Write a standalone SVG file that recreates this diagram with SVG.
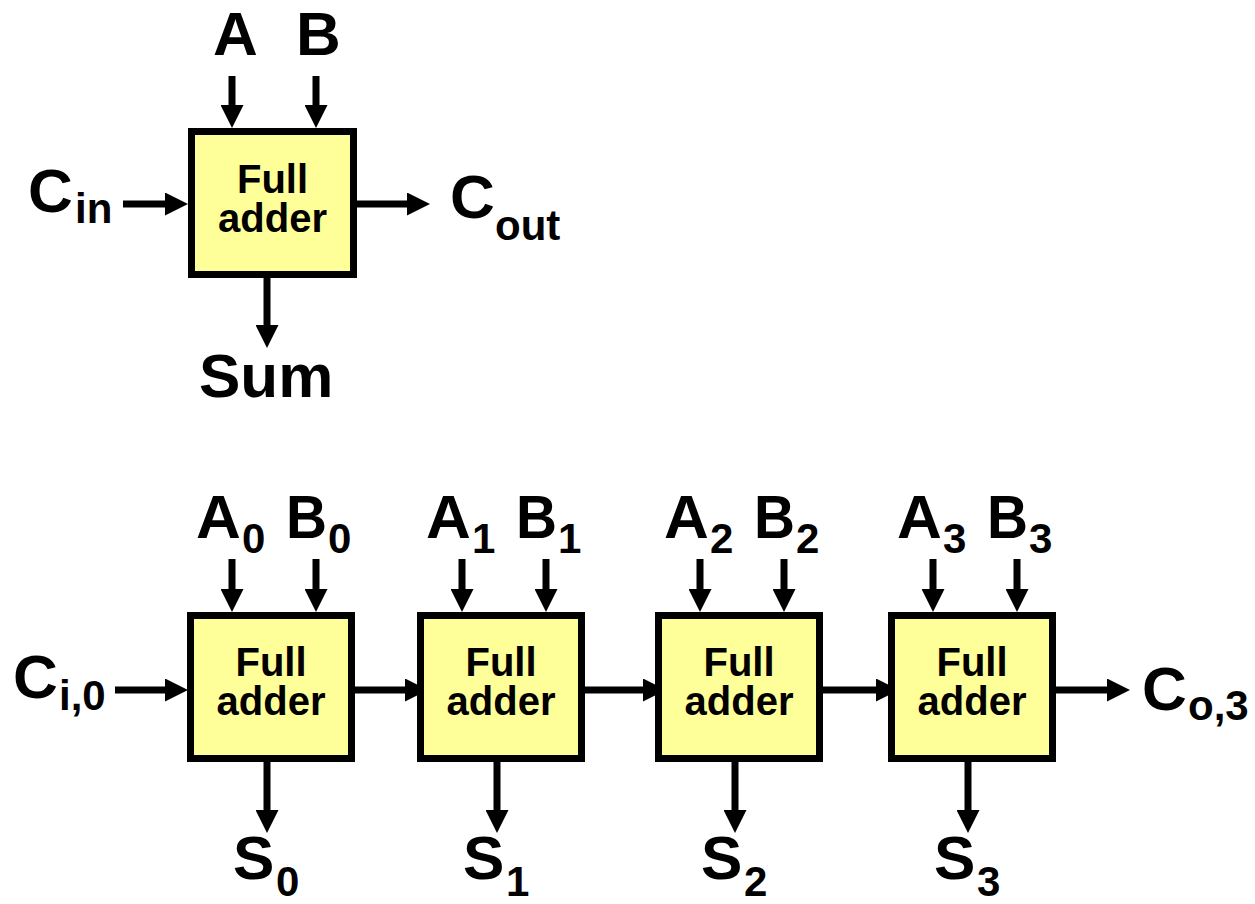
<svg xmlns="http://www.w3.org/2000/svg" width="1255" height="904" viewBox="0 0 1255 904">
<style>
.box{fill:#ffff99;stroke:#000;stroke-width:7}
.lbl{font-family:"Liberation Sans",Arial,sans-serif;font-weight:bold;font-size:62px;fill:#000}
.sub{font-family:"Liberation Sans",Arial,sans-serif;font-weight:bold;font-size:42px;fill:#000}
.fa{font-family:"Liberation Sans",Arial,sans-serif;font-weight:bold;font-size:40px;fill:#000;text-anchor:middle}
.w{stroke:#000;stroke-width:7;fill:none;marker-end:url(#ah)}
</style>
<defs>
<marker id="ah" markerUnits="userSpaceOnUse" markerWidth="23" markerHeight="23" refX="8" refY="11.5" orient="auto" viewBox="0 0 23 23">
<path d="M0,0 L23,11.5 L0,23 z" fill="#000"/>
</marker>
</defs>
<rect width="1255" height="904" fill="#fff"/>

<g id="connectors">
<line class="w" x1="232" y1="76" x2="232" y2="113"/>
<line class="w" x1="316" y1="76" x2="316" y2="113"/>
<line class="w" x1="123" y1="204" x2="173" y2="204"/>
<line class="w" x1="357" y1="204" x2="415" y2="204"/>
<line class="w" x1="267" y1="278" x2="267" y2="333"/>
<line class="w" x1="232" y1="559" x2="232" y2="597"/>
<line class="w" x1="316" y1="559" x2="316" y2="597"/>
<line class="w" x1="462" y1="559" x2="462" y2="597"/>
<line class="w" x1="546" y1="559" x2="546" y2="597"/>
<line class="w" x1="700" y1="559" x2="700" y2="597"/>
<line class="w" x1="784" y1="559" x2="784" y2="597"/>
<line class="w" x1="933" y1="559" x2="933" y2="597"/>
<line class="w" x1="1017" y1="559" x2="1017" y2="597"/>
<line class="w" x1="115" y1="690" x2="173" y2="690"/>
<line class="w" x1="355" y1="690" x2="413" y2="690"/>
<line class="w" x1="585" y1="690" x2="651" y2="690"/>
<line class="w" x1="823" y1="690" x2="884" y2="690"/>
<line class="w" x1="1056" y1="690" x2="1115" y2="690"/>
<line class="w" x1="267" y1="762" x2="267" y2="818"/>
<line class="w" x1="497" y1="762" x2="497" y2="818"/>
<line class="w" x1="735" y1="762" x2="735" y2="818"/>
<line class="w" x1="968" y1="762" x2="968" y2="818"/>
</g>

<g id="fa-top">
<rect class="box" x="191.5" y="131.5" width="162" height="143"/>
<text class="fa"><tspan x="272.5" y="193">Full</tspan><tspan x="272.5" y="232">adder</tspan></text>
</g>
<g id="fa0">
<rect class="box" x="190.5" y="615.5" width="161" height="143"/>
<text class="fa"><tspan x="271" y="676">Full</tspan><tspan x="271" y="715">adder</tspan></text>
</g>
<g id="fa1">
<rect class="box" x="420.5" y="615.5" width="161" height="143"/>
<text class="fa"><tspan x="501" y="676">Full</tspan><tspan x="501" y="715">adder</tspan></text>
</g>
<g id="fa2">
<rect class="box" x="658.5" y="615.5" width="161" height="143"/>
<text class="fa"><tspan x="739" y="676">Full</tspan><tspan x="739" y="715">adder</tspan></text>
</g>
<g id="fa3">
<rect class="box" x="891.5" y="615.5" width="161" height="143"/>
<text class="fa"><tspan x="972" y="676">Full</tspan><tspan x="972" y="715">adder</tspan></text>
</g>

<g id="labels-top">
<text class="lbl" x="213" y="55">A</text>
<text class="lbl" x="296" y="55">B</text>
<text class="lbl" x="28" y="212">C</text><text class="sub" x="75" y="223">in</text>
<text class="lbl" x="450" y="218">C</text><text class="sub" x="495" y="240">out</text>
<text class="lbl" x="199" y="397">Sum</text>
</g>

<g id="labels-bottom">
<text class="lbl" x="196" y="538">A</text><text class="sub" x="242" y="553">0</text>
<text class="lbl" x="286" y="538" textLength="41" lengthAdjust="spacingAndGlyphs">B</text><text class="sub" x="328" y="553">0</text>
<text class="lbl" x="426" y="538">A</text><text class="sub" x="472" y="553">1</text>
<text class="lbl" x="516" y="538" textLength="41" lengthAdjust="spacingAndGlyphs">B</text><text class="sub" x="558" y="553">1</text>
<text class="lbl" x="664" y="538">A</text><text class="sub" x="710" y="553">2</text>
<text class="lbl" x="754" y="538" textLength="41" lengthAdjust="spacingAndGlyphs">B</text><text class="sub" x="796" y="553">2</text>
<text class="lbl" x="897" y="538">A</text><text class="sub" x="943" y="553">3</text>
<text class="lbl" x="987" y="538" textLength="41" lengthAdjust="spacingAndGlyphs">B</text><text class="sub" x="1029" y="553">3</text>
<text class="lbl" x="13" y="698">C</text><text class="sub" x="59" y="710">i,0</text>
<text class="lbl" x="1142" y="710">C</text><text class="sub" x="1188" y="720">o,3</text>
<text class="lbl" x="233" y="879">S</text><text class="sub" x="276" y="896">0</text>
<text class="lbl" x="463" y="879">S</text><text class="sub" x="506" y="896">1</text>
<text class="lbl" x="701" y="879">S</text><text class="sub" x="744" y="896">2</text>
<text class="lbl" x="934" y="879">S</text><text class="sub" x="977" y="896">3</text>
</g>
</svg>
